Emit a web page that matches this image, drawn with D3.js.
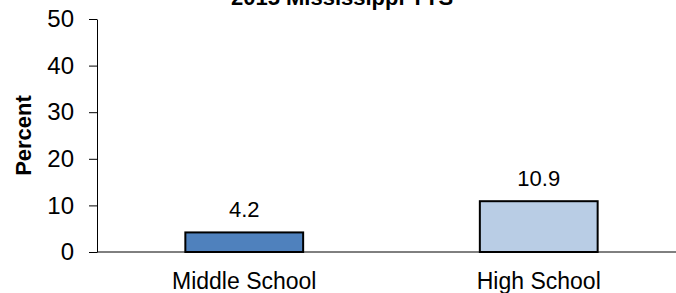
<!DOCTYPE html>
<html>
<head>
<meta charset="utf-8">
<script src="https://cdn.jsdelivr.net/npm/d3@7"></script>
<style>
body { margin: 0; background: #fff; }
text { font-family: Arial, "Liberation Sans", sans-serif; }
</style>
</head>
<body>
<div id="chart"></div>
<script>
// data
var categories = ["Middle School", "High School"];
var values = [4.2, 10.9];
var colors = ["#4F81BD", "#B9CDE5"];
var yTicks = [0, 10, 20, 30, 40, 50];

var W = 676, H = 293;

var svg = d3.select("#chart").append("svg")
    .attr("width", W)
    .attr("height", H);

// scales
var x = d3.scaleBand()
    .domain(categories)
    .range([97, 686])
    .paddingInner(0.6)
    .paddingOuter(0.3);
var y = d3.scaleLinear()
    .domain([0, 50])
    .range([252, 19]);

// title (cut off at top like the original)
svg.append("text")
    .attr("x", 342)
    .attr("y", 5)
    .attr("text-anchor", "middle")
    .style("font-size", "22px")
    .style("font-weight", "bold")
    .text("2015 Mississippi YTS");

// y axis
var yAxis = svg.append("g")
    .attr("transform", "translate(97,0)")
    .call(d3.axisLeft(y).tickValues(yTicks).tickSize(8).tickSizeOuter(0).tickPadding(15));
yAxis.select(".domain").attr("stroke", "#000").attr("stroke-width", 1);
yAxis.selectAll(".tick line").attr("stroke", "#000");
yAxis.selectAll(".tick text")
    .style("font-size", "24px")
    .attr("fill", "#000");

// x axis line
svg.append("line")
    .attr("x1", 97).attr("x2", W)
    .attr("y1", y(0)).attr("y2", y(0))
    .attr("stroke", "#000");

// bars
svg.selectAll(".bar")
    .data(values)
    .enter().append("rect")
    .attr("class", "bar")
    .attr("x", function(d, i) { return x(categories[i]); })
    .attr("width", x.bandwidth())
    .attr("y", function(d) { return y(d); })
    .attr("height", function(d) { return y(0) - y(d); })
    .attr("fill", function(d, i) { return colors[i]; })
    .attr("stroke", "#000")
    .attr("stroke-width", 2);

// value labels
svg.selectAll(".val")
    .data(values)
    .enter().append("text")
    .attr("class", "val")
    .attr("x", function(d, i) { return x(categories[i]) + x.bandwidth() / 2; })
    .attr("y", function(d) { return y(d) - 15; })
    .attr("text-anchor", "middle")
    .style("font-size", "22px")
    .text(function(d) { return d.toFixed(1); });

// category labels
svg.selectAll(".cat")
    .data(categories)
    .enter().append("text")
    .attr("class", "cat")
    .attr("x", function(d) { return x(d) + x.bandwidth() / 2; })
    .attr("y", 289)
    .attr("text-anchor", "middle")
    .style("font-size", "23px")
    .text(function(d) { return d; });

// y axis title
svg.append("text")
    .attr("transform", "translate(31," + ((y(0) + y(50)) / 2) + ") rotate(-90)")
    .attr("text-anchor", "middle")
    .style("font-size", "22px")
    .style("font-weight", "bold")
    .text("Percent");
</script>
</body>
</html>
